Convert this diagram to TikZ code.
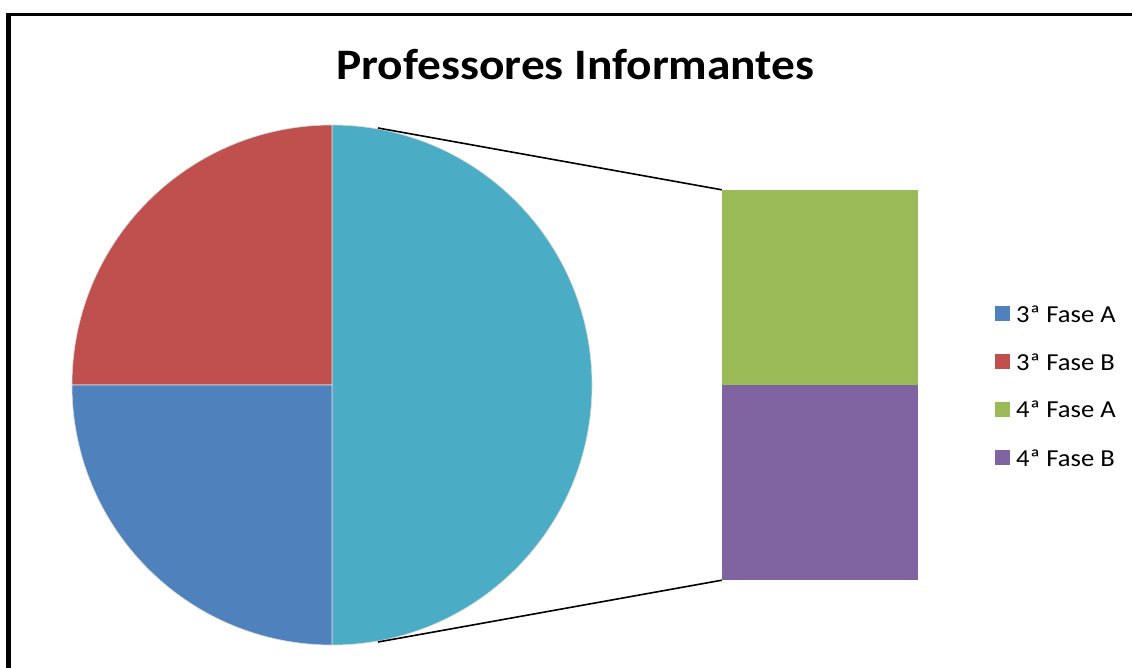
\documentclass[tikz,border=0pt]{standalone}
\usepackage{fontspec}
\setmainfont{Carlito}
\definecolor{cA}{HTML}{4F81BD}
\definecolor{cB}{HTML}{C0504D}
\definecolor{cC}{HTML}{9BBB59}
\definecolor{cD}{HTML}{8064A2}
\definecolor{cE}{HTML}{4BACC6}
\tikzset{
  slice/.style={draw=white!85!black, line width=0.6pt},
  barbox/.style={rectangle, inner sep=0pt, minimum width=196pt, minimum height=195pt},
  conn/.style={draw=black, line width=1.6pt},
  legsq/.style={rectangle, inner sep=0pt, minimum size=15pt},
  legtxt/.style={anchor=base west, inner sep=0pt, xscale=1.09, font=\fontsize{24.4}{28}\selectfont},
}
\begin{document}
\begin{tikzpicture}[x=1pt,y=-1pt]
\useasboundingbox (0,0) rectangle (1132,668);
\fill[white] (0,0) rectangle (1132,668);
% frame
\draw[line width=3.5pt] (8.5,14.5) -- (1140,14.5);
\draw[line width=5pt] (8.5,12.75) -- (8.5,680);
% title
\node (title) [anchor=base, inner sep=0pt, xscale=1.09, font=\fontsize{43.5}{50}\selectfont\bfseries] at (575.5,80) {Professores Informantes};
% pie
\coordinate (pc) at (332,385);
\fill[cE, slice] (pc) -- (332,125) arc[start angle=-90, end angle=90, radius=260] -- cycle;
\fill[cB, slice] (pc) -- (72,385) arc[start angle=180, end angle=270, radius=260] -- cycle;
\fill[cA, slice] (pc) -- (332,645) arc[start angle=90, end angle=180, radius=260] -- cycle;
\coordinate (ptop) at (378,128);
\coordinate (pbot) at (378,642);
% bar
\node (barA) [barbox, fill=cC] at (820,287.5) {};
\node (barB) [barbox, fill=cD] at (820,482.5) {};
\draw[conn] (ptop) -- (barA.north west);
\draw[conn] (pbot) -- (barB.south west);
% legend
\node (l1) [legsq, fill=cA] at (1002.5,313.5) {};
\node (t1) [legtxt] at (1016,322) {3ª Fase A};
\node (l2) [legsq, fill=cB] at (1002.5,361.5) {};
\node (t2) [legtxt] at (1016,370) {3ª Fase B};
\node (l3) [legsq, fill=cC] at (1002.5,409) {};
\node (t3) [legtxt] at (1016,417.5) {4ª Fase A};
\node (l4) [legsq, fill=cD] at (1002.5,457.5) {};
\node (t4) [legtxt] at (1016,466) {4ª Fase B};
\end{tikzpicture}
\end{document}
